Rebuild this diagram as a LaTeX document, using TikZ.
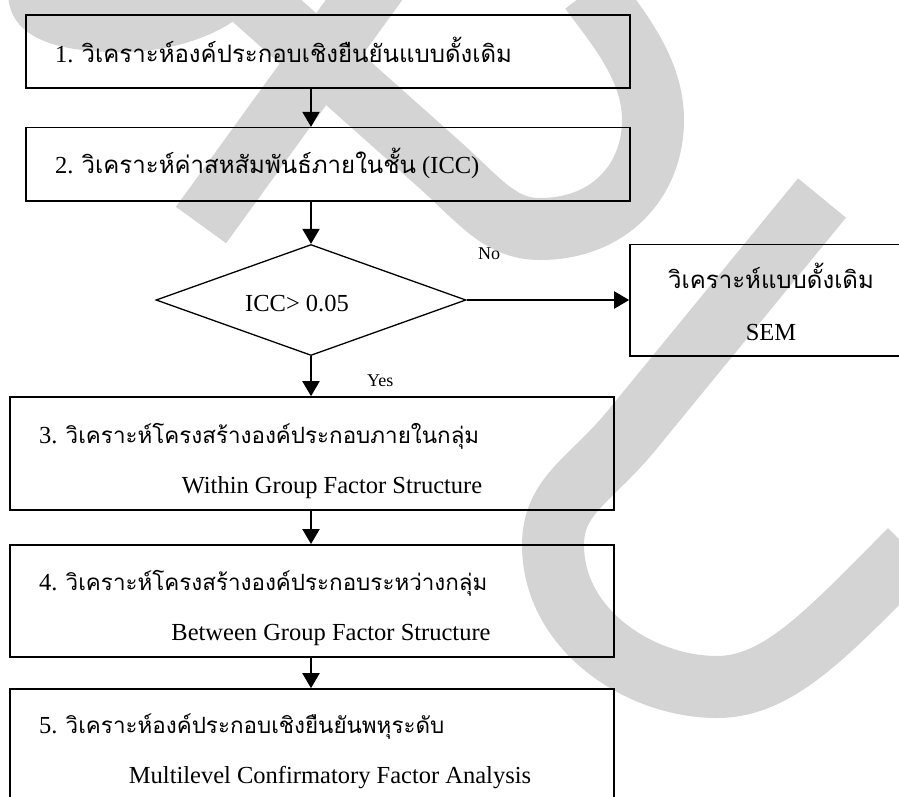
\documentclass[tikz,border=0pt]{standalone}
\usepackage{fontspec}
\setmainfont{Liberation Serif}
\newfontfamily\thaifont[Script=Thai]{Loma}
\usetikzlibrary{shapes.geometric,arrows.meta}
\definecolor{wmgray}{RGB}{212,212,212}
% Thai run in Loma; optional argument sets the size
\newcommand\thaitxt[2][24]{{\thaifont\fontsize{#1}{28}\selectfont #2}}
\tikzset{
  wm/.style={draw=wmgray, line width=62pt, line cap=butt, line join=round},
  box/.style={draw, line width=1.6pt, inner sep=0pt},
  decision/.style={draw, diamond, line width=1.3pt, inner sep=0pt},
  flow/.style={-{Triangle[length=15pt,width=17pt]}, line width=2pt},
  txt/.style={inner sep=0pt, font=\fontsize{24.5}{28}\selectfont},
  lbl/.style={inner sep=0pt, font=\fontsize{18}{20}\selectfont},
}
\begin{document}
\begin{tikzpicture}[x=1pt,y=-1pt]
\useasboundingbox (0,0) rectangle (899,796);
\clip (0,0) rectangle (899,796);

% background mark
\fill[wmgray] (8,-5) .. controls (10,30) and (40,50) .. (110,52)
  .. controls (180,54) and (235,30) .. (262,-5) -- cycle;
\draw[wm] (238,-15) -- (440,165) .. controls (480,201) and (500,229) .. (540,229)
  .. controls (610,229) and (653,180) .. (653,120)
  .. controls (653,70) and (620,30) .. (590,-10);
\draw[wm] (201,225) -- (393,-40);
\draw[wm] (822,198) -- (632,430) .. controls (591,480) and (553,495) .. (553,545)
  .. controls (553,630) and (640,687) .. (717,687)
  .. controls (780,687) and (830,630) .. (910,550);

% boxes
\node[box, minimum width=604pt, minimum height=73pt] (b1) at (328,51.5) {};
\node[box, minimum width=604pt, minimum height=73.3pt] (b2) at (328,164.3) {};
\node[decision, minimum width=310pt, minimum height=111pt] (d) at (311,300) {};
\node[box, minimum width=282pt, minimum height=111.4pt] (sem) at (771,300) {};
\node[box, minimum width=604pt, minimum height=113pt] (b3) at (312,453.5) {};
\node[box, minimum width=604pt, minimum height=112.3pt] (b4) at (312,601) {};
\node[box, minimum width=604pt, minimum height=113pt] (b5) at (312,745.5) {};

% texts
\node[txt, anchor=base west] (t1) at (55,62) {1. \thaitxt{วิเคราะห์องค์ประกอบเชิงยืนยันแบบดั้งเดิม}};
\node[txt, anchor=base west] (t2) at (55,173.3) {2. \thaitxt{วิเคราะห์ค่าสหสัมพันธ์ภายในชั้น} (ICC)};
\node[txt, anchor=base west] (td) at (245,311.7) {ICC> 0.05};
\node[txt, anchor=base] (ts1) at (771,288.3) {\thaitxt{วิเคราะห์แบบดั้งเดิม}};
\node[txt, anchor=base] (ts2) at (771,340) {SEM};
\node[txt, anchor=base west] (t3) at (39,443.3) {3. \thaitxt[22.4]{วิเคราะห์โครงสร้างองค์ประกอบภายในกลุ่ม}};
\node[txt, anchor=base] (t3e) at (332,493.3) {Within Group Factor Structure};
\node[txt, anchor=base west] (t4) at (39,590) {4. \thaitxt[22.4]{วิเคราะห์โครงสร้างองค์ประกอบระหว่างกลุ่ม}};
\node[txt, anchor=base] (t4e) at (331,640) {Between Group Factor Structure};
\node[txt, anchor=base west] (t5) at (39,733.3) {5. \thaitxt[22.4]{วิเคราะห์องค์ประกอบเชิงยืนยันพหุระดับ}};
\node[txt, anchor=base] (t5e) at (330,783.3) {Multilevel Confirmatory Factor Analysis};
\node[lbl, anchor=base west] (no) at (478,259) {No};
\node[lbl, anchor=base west] (yes) at (367,386) {Yes};

% connectors
\draw[flow] (b1.south -| d.north) -- (b2.north -| d.north);
\draw[flow] (b2.south -| d.north) -- (d.north);
\draw[flow] (d.east) -- (sem.west);
\draw[flow] (d.south) -- (b3.north -| d.south);
\draw[flow] (b3.south -| d.south) -- (b4.north -| d.south);
\draw[flow] (b4.south -| d.south) -- (b5.north -| d.south);
\end{tikzpicture}
\end{document}
